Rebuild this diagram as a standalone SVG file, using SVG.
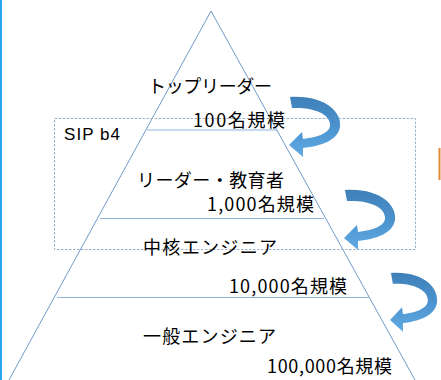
<svg xmlns="http://www.w3.org/2000/svg" width="441" height="380" viewBox="0 0 441 380">
<style>
.tri{fill:none;stroke:#6f9bc8;stroke-width:1}
.hl{stroke:#8fb3d9;stroke-width:1.2}
.box{fill:none;stroke:#9fb4cc;stroke-width:1;stroke-dasharray:2.5 1.5}
.t{font-family:"Noto Sans CJK JP","Liberation Sans",sans-serif;fill:#000;font-size:18px}
.s{font-family:"Liberation Sans",sans-serif;fill:#000;font-size:17px}
.a{fill:url(#ag)}
</style>
<defs>
<linearGradient id="ag" x1="0" y1="0" x2="0" y2="1">
<stop offset="0" stop-color="#3f80b8"/>
<stop offset="0.5" stop-color="#4b93cf"/>
<stop offset="1" stop-color="#62aae2"/>
</linearGradient>
<path id="arrow" d="M0,0 C35,-2 52,15 50,30 C48,43 32,49 13,51 L13,60 L-1,48 L12,35 L13,42 C30,40 41,35 40,27 C39,16 22,10 2,11 Z"/>
</defs>
<rect width="441" height="380" fill="#ffffff"/>
<rect x="0" y="0" width="2" height="380" fill="#2aa6ee"/>
<rect x="438.5" y="148" width="2" height="32" fill="#e08a3a"/>
<g id="pyramid">
<path class="tri" d="M9,380 L211,11 L415,380"/>
<line class="hl" x1="147" y1="130" x2="277" y2="130"/>
<line class="hl" x1="100" y1="218.5" x2="324" y2="218.5"/>
<line class="hl" x1="57" y1="297.5" x2="370" y2="297.5"/>
</g>
<g id="sip-b4">
<rect class="box" x="54.5" y="118.5" width="361" height="131"/>
<text class="s" x="64" y="140" textLength="56" lengthAdjust="spacing">SIP b4</text>
</g>
<g id="top-leader">
<text class="t" x="148" y="93" textLength="124" lengthAdjust="spacing">トップリーダー</text>
<text class="t" x="193" y="127" textLength="92" lengthAdjust="spacing">100名規模</text>
</g>
<g id="leader-educator">
<text class="t" x="137" y="187" textLength="147" lengthAdjust="spacing">リーダー・教育者</text>
<text class="t" x="207" y="211" textLength="107" lengthAdjust="spacing">1,000名規模</text>
</g>
<g id="core-engineer">
<text class="t" x="143" y="254" textLength="134" lengthAdjust="spacing">中核エンジニア</text>
<text class="t" x="229" y="293" textLength="118" lengthAdjust="spacing">10,000名規模</text>
</g>
<g id="general-engineer">
<text class="t" x="143" y="343" textLength="133" lengthAdjust="spacing">一般エンジニア</text>
<text class="t" x="267" y="373" textLength="125" lengthAdjust="spacing">100,000名規模</text>
</g>
<g id="connectors">
<use class="a" href="#arrow" transform="translate(290,97)"/>
<use class="a" href="#arrow" transform="translate(345,190)"/>
<use class="a" href="#arrow" transform="translate(391,273) scale(0.92,0.98)"/>
</g>
</svg>
